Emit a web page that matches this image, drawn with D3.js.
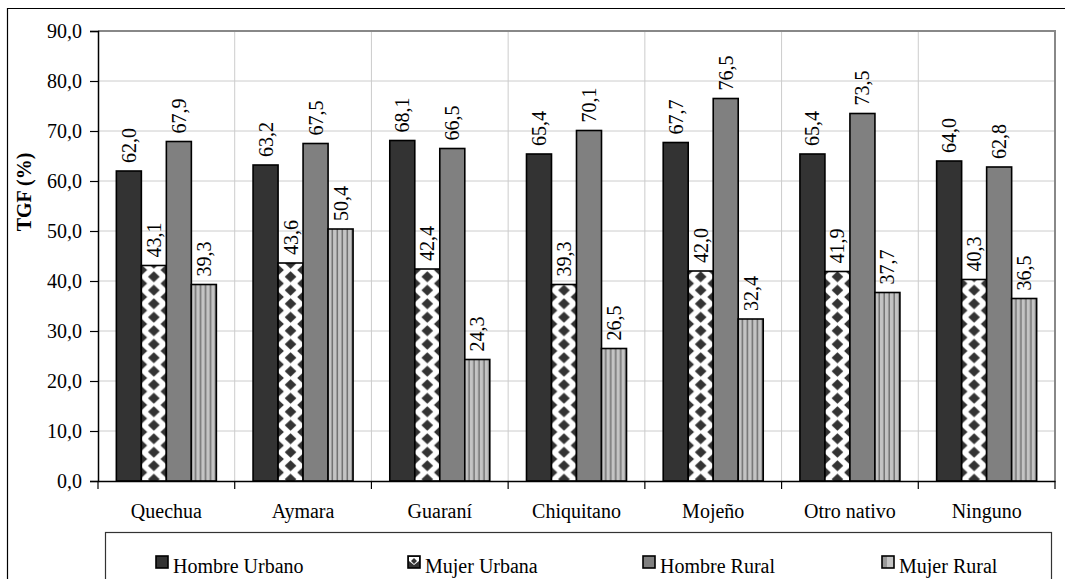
<!DOCTYPE html>
<html>
<head>
<meta charset="utf-8">
<script src="https://cdn.jsdelivr.net/npm/d3@7"></script>
<style>
  html, body { margin: 0; padding: 0; background: #fff; }
  svg { display: block; }
  text { font-family: "Liberation Serif", "Times New Roman", serif; fill: #000; }
</style>
</head>
<body>
<svg id="chart" width="1065" height="579"></svg>
<script>
// Grupos de idioma y series
const categories = ["Quechua", "Aymara", "Guaraní", "Chiquitano", "Mojeño", "Otro nativo", "Ninguno"];
const seriesNames = ["Hombre Urbano", "Mujer Urbana", "Hombre Rural", "Mujer Rural"];
const hombreUrbano = [62.0, 63.2, 68.1, 65.4, 67.7, 65.4, 64.0];
const mujerUrbana  = [43.1, 43.6, 42.4, 39.3, 42.0, 41.9, 40.3];
const hombreRural  = [67.9, 67.5, 66.5, 70.1, 76.5, 73.5, 62.8];
const mujerRural   = [39.3, 50.4, 24.3, 26.5, 32.4, 37.7, 36.5];
const yTicks = [0, 10, 20, 30, 40, 50, 60, 70, 80, 90];
const yTitle = "TGF (%)";

const seriesValues = [hombreUrbano, mujerUrbana, hombreRural, mujerRural];
const fills = ["#333333", "url(#diamonds)", "#808080", "url(#stripes)"];
const legendFills = ["#333333", "url(#diamondsSmall)", "#808080", "url(#stripesSmall)"];

const svg = d3.select("#chart");
const plot = { left: 98, right: 1055, top: 31, bottom: 481 };

const fmt = v => d3.format(".1f")(v).replace(".", ",");

// patrones de relleno
const defs = svg.append("defs");
const dia = defs.append("pattern").attr("id", "diamonds")
  .attr("patternUnits", "userSpaceOnUse").attr("width", 25).attr("height", 13.5);
dia.append("rect").attr("width", 25).attr("height", 13.5).attr("fill", "#fff");
const dpts = (cx, cy) => `M${cx},${cy - 5.6} L${cx + 5.8},${cy} L${cx},${cy + 5.6} L${cx - 5.8},${cy} Z`;
[[12.5, 6.75], [0, 0], [25, 0], [0, 13.5], [25, 13.5]].forEach(([cx, cy]) =>
  dia.append("path").attr("d", dpts(cx, cy)).attr("fill", "#333"));

const diaS = defs.append("pattern").attr("id", "diamondsSmall")
  .attr("patternUnits", "userSpaceOnUse").attr("width", 12).attr("height", 12);
diaS.append("rect").attr("width", 12).attr("height", 12).attr("fill", "#333");
diaS.append("path").attr("d", "M1,1 L11,1 L11,5 L6,9 L1,5 Z").attr("fill", "#fff");
diaS.append("path").attr("d", "M6,2 L9,5 L6,8 L3,5 Z").attr("fill", "#333");

const str = defs.append("pattern").attr("id", "stripes")
  .attr("patternUnits", "userSpaceOnUse").attr("width", 5).attr("height", 10);
str.append("rect").attr("width", 5).attr("height", 10).attr("fill", "#c4c4c4");
str.append("rect").attr("x", 3.5).attr("width", 1.5).attr("height", 10).attr("fill", "#707070");

const strS = defs.append("pattern").attr("id", "stripesSmall")
  .attr("patternUnits", "userSpaceOnUse").attr("width", 12).attr("height", 12);
strS.append("rect").attr("width", 12).attr("height", 12).attr("fill", "#c4c4c4");
strS.append("rect").attr("x", 0).attr("width", 5).attr("height", 12).attr("fill", "#999");

// marco exterior
svg.append("path").attr("d", "M7.5,579 L7.5,8.5 L1065,8.5")
  .attr("fill", "none").attr("stroke", "#000").attr("stroke-width", 1.2);

const x = d3.scaleBand().domain(categories).range([plot.left, plot.right]).padding(0);
const xs = d3.scaleBand().domain(seriesNames).range([0, x.bandwidth()])
  .paddingInner(0).paddingOuter(0.734);
const y = d3.scaleLinear().domain([0, 90]).range([plot.bottom, plot.top]);

// cuadrícula
svg.append("g").selectAll("line").data(yTicks.slice(1)).join("line")
  .attr("x1", plot.left).attr("x2", plot.right)
  .attr("y1", d => y(d)).attr("y2", d => y(d))
  .attr("stroke", "#cccccc").attr("stroke-width", 1);
svg.append("g").selectAll("line").data(categories.slice(1)).join("line")
  .attr("x1", d => x(d)).attr("x2", d => x(d))
  .attr("y1", plot.top).attr("y2", plot.bottom)
  .attr("stroke", "#cccccc").attr("stroke-width", 1);

// borde superior y derecho del área de trazado
svg.append("path")
  .attr("d", `M${plot.left},${plot.top} L${plot.right},${plot.top} L${plot.right},${plot.bottom}`)
  .attr("fill", "none").attr("stroke", "#888").attr("stroke-width", 2);

// barras
const groups = svg.append("g").selectAll("g").data(categories).join("g")
  .attr("transform", c => `translate(${x(c)},0)`);

seriesNames.forEach((s, si) => {
  groups.append("g")
    .attr("transform", `translate(${xs(s)},0)`)
    .append("rect")
    .attr("x", 0)
    .attr("y", (c, i) => y(seriesValues[si][i]))
    .attr("width", xs.bandwidth())
    .attr("height", (c, i) => y(0) - y(seriesValues[si][i]))
    .attr("fill", fills[si])
    .attr("stroke", "#000").attr("stroke-width", 1.6);
});

// etiquetas de valor
seriesNames.forEach((s, si) => {
  groups.append("text")
    .attr("transform", (c, i) =>
      `translate(${xs(s) + xs.bandwidth() / 2},${y(seriesValues[si][i]) - 8}) rotate(-90)`)
    .attr("dy", "0.35em")
    .attr("text-anchor", "start")
    .attr("font-size", 20)
    .text((c, i) => fmt(seriesValues[si][i]));
});

// eje Y
const yAxis = svg.append("g").attr("transform", `translate(${plot.left},0)`)
  .call(d3.axisLeft(y).tickValues(yTicks).tickFormat(fmt).tickSizeOuter(0).tickSize(8).tickPadding(8));
yAxis.select(".domain").attr("stroke", "#000").attr("stroke-width", 1.5);
yAxis.selectAll(".tick line").attr("stroke", "#000").attr("stroke-width", 1.2);
yAxis.selectAll("text").attr("font-size", 20).attr("font-family", "Liberation Serif").attr("fill", "#000");

// eje X
const xAxis = svg.append("g").attr("transform", `translate(0,${plot.bottom})`)
  .call(d3.axisBottom(x).tickSize(0).tickSizeOuter(0).tickPadding(23));
xAxis.select(".domain").attr("stroke", "#000").attr("stroke-width", 1.5);
xAxis.selectAll("text").attr("font-size", 20).attr("font-family", "Liberation Serif").attr("fill", "#000");
svg.append("g").selectAll("line").data(categories.concat([null])).join("line")
  .attr("x1", (d, i) => plot.left + i * x.step()).attr("x2", (d, i) => plot.left + i * x.step())
  .attr("y1", plot.bottom).attr("y2", plot.bottom + 8)
  .attr("stroke", "#000").attr("stroke-width", 1.2);

// título del eje Y
svg.append("text")
  .attr("transform", "translate(31,192) rotate(-90)")
  .attr("text-anchor", "middle")
  .attr("font-size", 20).attr("font-weight", "bold")
  .text(yTitle);

// leyenda
svg.append("rect").attr("x", 105.5).attr("y", 532.5).attr("width", 946).attr("height", 70)
  .attr("fill", "#fff").attr("stroke", "#333").attr("stroke-width", 1.2);
const legendX = [156, 408, 643, 882];
const lg = svg.append("g").selectAll("g").data(seriesNames).join("g")
  .attr("transform", (d, i) => `translate(${legendX[i]},556)`);
lg.append("rect").attr("width", 12).attr("height", 12)
  .attr("fill", (d, i) => legendFills[i]).attr("stroke", "#000").attr("stroke-width", 1.6);
lg.append("text").attr("x", 17).attr("y", 17)
  .attr("font-size", 20).text(d => d);
</script>
</body>
</html>
